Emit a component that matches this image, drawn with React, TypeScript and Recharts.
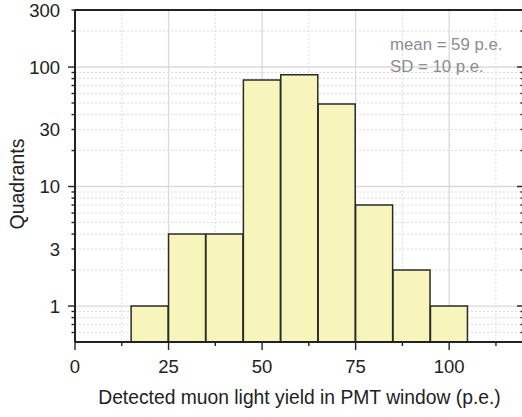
import React from 'react';
import { ComposedChart, Bar, XAxis, YAxis, CartesianGrid } from 'recharts';

const binStarts = [15, 25, 35, 45, 55, 65, 75, 85, 95];
const binWidth = 10;
const counts = [1, 4, 4, 78, 86, 49, 7, 2, 1];

const xDomain = [0, 120];
const xMajorTicks = [0, 25, 50, 75, 100, 120];
const xMinorTicks = [12.5, 37.5, 62.5, 87.5, 112.5];
const xLabelTicks = [0, 25, 50, 75, 100];

const yDomain = [0.5, 300];
const yMajorTicks = [1, 10, 100];
const yMinorTicks = [0.6, 0.7, 0.8, 0.9, 2, 3, 4, 5, 6, 7, 8, 9, 20, 30, 40, 50, 60, 70, 80, 90, 200, 300];
const yLabelTicks = [1, 3, 10, 30, 100, 300];

const meanText = 'mean = 59 p.e.';
const sdText = 'SD = 10 p.e.';
const xTitle = 'Detected muon light yield in PMT window (p.e.)';
const yTitle = 'Quadrants';

const data = binStarts.map((s, i) => ({ x: s + binWidth / 2, count: counts[i] }));
const xAllTicks = [...xMajorTicks, ...xMinorTicks].sort((a, b) => a - b);
const yAllTicks = [...yMajorTicks, ...yMinorTicks].sort((a, b) => a - b);

const FONT = '"Liberation Sans", Arial, sans-serif';
const INK = '#222';

const BottomTick = (props: any) => {
  const { x, y, payload } = props;
  const v = payload.value;
  const len = xMajorTicks.includes(v) ? 8 : 4;
  return (
    <g>
      <line x1={x} x2={x} y1={y} y2={y + len} stroke={INK} strokeWidth={1.4} />
      {xLabelTicks.includes(v) && (
        <text x={x} y={y + 31} textAnchor="middle" fontSize={18.5} fontFamily={FONT} fill={INK}>
          {v}
        </text>
      )}
    </g>
  );
};

const TopTick = (props: any) => {
  const { x, y, payload } = props;
  const v = payload.value;
  const len = xMajorTicks.includes(v) ? 8 : 4;
  return <line x1={x} x2={x} y1={y} y2={y + len} stroke={INK} strokeWidth={1.4} />;
};

const LeftTick = (props: any) => {
  const { x, y, payload } = props;
  const v = payload.value;
  const len = yMajorTicks.includes(v) ? 7 : 3.5;
  return (
    <g>
      <line x1={x} x2={x - len} y1={y} y2={y} stroke={INK} strokeWidth={1.4} />
      {yLabelTicks.includes(v) && (
        <text x={x - 15} y={y} dy="0.36em" textAnchor="end" fontSize={18.5} fontFamily={FONT} fill={INK}>
          {v}
        </text>
      )}
    </g>
  );
};

const RightTick = (props: any) => {
  const { x, y, payload } = props;
  const v = payload.value;
  const len = yMajorTicks.includes(v) ? 7 : 3.5;
  return <line x1={x} x2={x - len} y1={y} y2={y} stroke={INK} strokeWidth={1.4} />;
};

export default function App() {
  return (
    <div
      style={{
        position: 'fixed',
        left: 0,
        top: 0,
        width: 522,
        height: 417,
        overflow: 'hidden',
        background: '#fff',
        fontFamily: FONT,
      }}
    >
      <ComposedChart
        width={530}
        height={417}
        data={data}
        margin={{ top: 10, right: 6, bottom: 0, left: 0 }}
        barCategoryGap={0}
        barGap={0}
      >
        <CartesianGrid
          xAxisId="bottom"
          yAxisId="left"
          horizontalValues={yMinorTicks}
          verticalValues={xMinorTicks}
          stroke="#dcdcdc"
          strokeWidth={1}
          strokeDasharray="2 2"
        />
        <CartesianGrid
          xAxisId="bottom"
          yAxisId="left"
          horizontalValues={yMajorTicks}
          verticalValues={[25, 50, 75, 100]}
          stroke="#dadada"
          strokeWidth={1.3}
        />
        <XAxis
          xAxisId="bottom"
          dataKey="x"
          type="number"
          domain={xDomain}
          allowDataOverflow
          ticks={xAllTicks}
          interval={0}
          height={75}
          tickSize={0}
          tickMargin={0}
          tickLine={false}
          tick={<BottomTick />}
          axisLine={{ stroke: INK, strokeWidth: 2 }}
          label={{
            value: xTitle,
            position: 'insideBottom',
            offset: 13,
            style: { fontSize: 19.3, fill: INK, fontFamily: FONT, textAnchor: 'middle' },
          }}
        />
        <XAxis
          xAxisId="top"
          orientation="top"
          mirror
          type="number"
          domain={xDomain}
          allowDataOverflow
          ticks={xAllTicks}
          interval={0}
          tickSize={0}
          tickMargin={0}
          tickLine={false}
          tick={<TopTick />}
          axisLine={{ stroke: INK, strokeWidth: 2 }}
        />
        <YAxis
          yAxisId="left"
          scale="log"
          type="number"
          domain={yDomain}
          allowDataOverflow
          ticks={yAllTicks}
          interval={0}
          width={75}
          tickSize={0}
          tickMargin={0}
          tickLine={false}
          tick={<LeftTick />}
          axisLine={{ stroke: INK, strokeWidth: 2 }}
          label={{
            value: yTitle,
            angle: -90,
            position: 'insideLeft',
            offset: 0,
            dx: 17,
            dy: 8,
            style: { fontSize: 19.5, fill: INK, fontFamily: FONT, textAnchor: 'middle' },
          }}
        />
        <YAxis
          yAxisId="right"
          orientation="right"
          mirror
          scale="log"
          type="number"
          domain={yDomain}
          allowDataOverflow
          ticks={yAllTicks}
          interval={0}
          tickSize={0}
          tickMargin={0}
          tickLine={false}
          tick={<RightTick />}
          axisLine={{ stroke: INK, strokeWidth: 2 }}
        />
        <Bar
          xAxisId="bottom"
          yAxisId="left"
          dataKey="count"
          fill="#F7F5BB"
          stroke="#2a2a2a"
          strokeWidth={1.5}
          isAnimationActive={false}
        />
        <text x={390} y={50} fontSize={16.8} fontFamily={FONT} fill="#8c8c8c">
          {meanText}
        </text>
        <text x={390} y={71.5} fontSize={16.8} fontFamily={FONT} fill="#8c8c8c">
          {sdText}
        </text>
      </ComposedChart>
    </div>
  );
}
